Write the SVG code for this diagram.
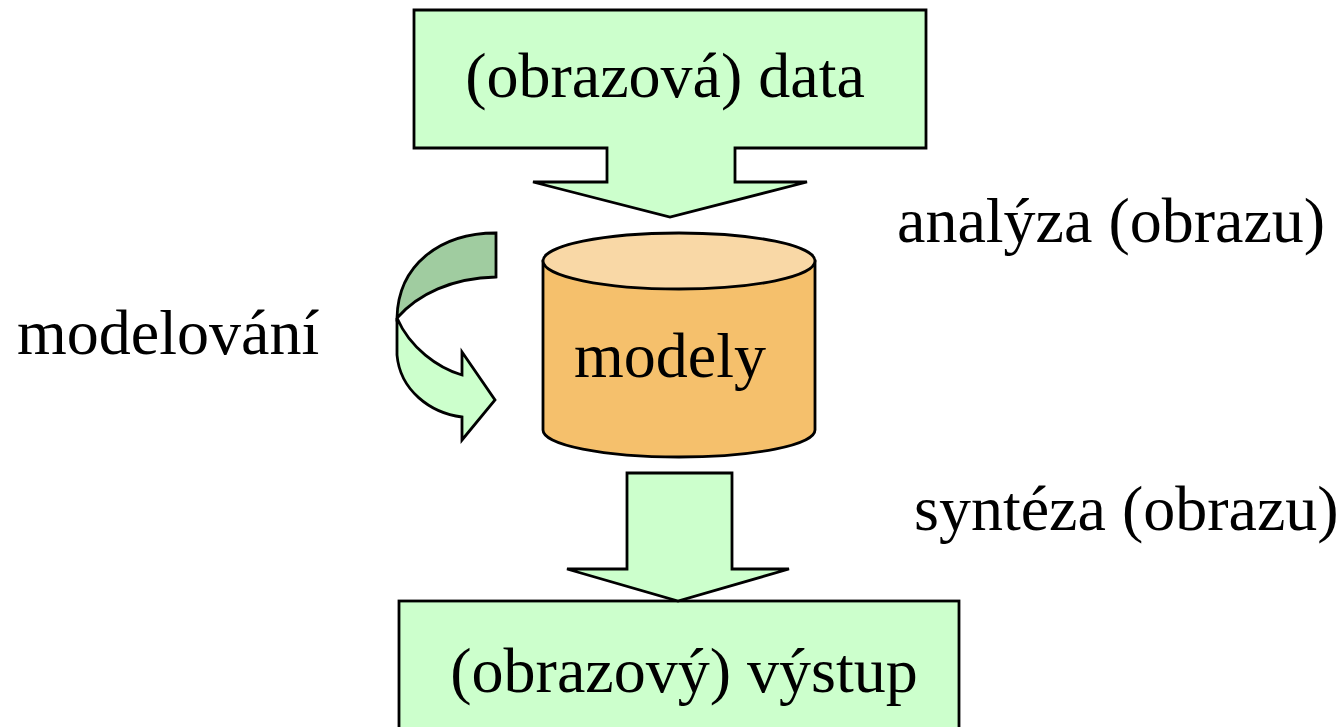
<svg xmlns="http://www.w3.org/2000/svg" width="1342" height="727" viewBox="0 0 1342 727">
  <style>
    .shape { stroke: #000; stroke-width: 2.8; stroke-linejoin: miter; }
    .green { fill: #ccffcc; }
    .greenDark { fill: #a0cca0; }
    .label { font-family: "Liberation Serif", "Times New Roman", serif; font-size: 64px; fill: #000; }
  </style>
  <rect width="1342" height="727" fill="#ffffff"/>

  <!-- input: callout box pointing down to the model store -->
  <g id="node-data">
    <path class="shape green" d="M414,10 H926 V148 H735 V182 H807 L670,217 L533,182 H607 V148 H414 Z"/>
    <text class="label" x="665" y="97" text-anchor="middle">(obrazová) data</text>
  </g>

  <!-- model store (cylinder) -->
  <g id="node-models">
    <path class="shape" fill="#f5c06c" d="M543,261 V430 A136,27 0 0 0 815,430 V261 Z"/>
    <ellipse class="shape" fill="#f9d8a6" cx="679" cy="261" rx="136" ry="28"/>
    <text class="label" x="670" y="377" text-anchor="middle">modely</text>
  </g>

  <!-- output box -->
  <g id="node-output">
    <rect class="shape green" x="399" y="601" width="560" height="140"/>
    <text class="label" x="684" y="692" text-anchor="middle">(obrazový) výstup</text>
  </g>

  <!-- side labels -->
  <g id="label-analysis">
    <text class="label" x="897" y="242">analýza (obrazu)</text>
  </g>
  <g id="label-modelling">
    <text class="label" x="17" y="354">modelování</text>
  </g>
  <g id="label-synthesis">
    <text class="label" x="914" y="530">syntéza (obrazu)</text>
  </g>

  <g id="connectors">
    <!-- block arrow from models down to the output -->
    <path class="shape green" d="M627,473 H732 V569 H789 L678,601 L567,569 H627 Z"/>
    <!-- curved modelling arrow: back face then front face -->
    <path class="shape greenDark" d="M496,233 C440,233 398,265 397,318 C418,294 452,278 496,277 Z"/>
    <path class="shape green" d="M397,318 L397,355 C400,390 430,413 462,417 L462,440 L495,400 L462,352 L462,375 C438,368 410,348 397,318 Z"/>
  </g>
</svg>
